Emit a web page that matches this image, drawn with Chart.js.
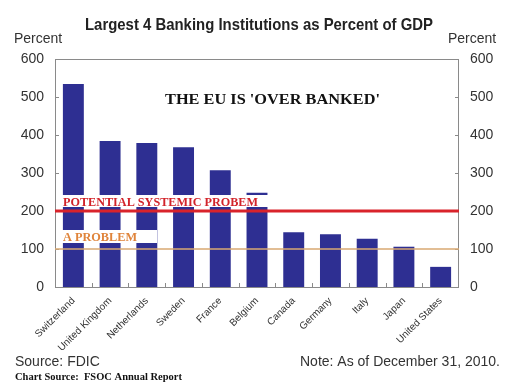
<!DOCTYPE html>
<html>
<head>
<meta charset="utf-8">
<script src="https://cdn.jsdelivr.net/npm/chart.js@4.4.1/dist/chart.umd.min.js"></script>
<style>
  html, body { margin: 0; padding: 0; background: #fff; }
  #wrap { width: 521px; height: 387px; position: relative; }
</style>
</head>
<body>
<div id="wrap"><canvas id="chart" width="521" height="387"></canvas></div>
<script>
// data
const countries = ['Switzerland', 'United Kingdom', 'Netherlands', 'Sweden', 'France', 'Belgium',
  'Canada', 'Germany', 'Italy', 'Japan', 'United States'];
const percentOfGdp = [534, 384, 379, 368, 307, 248, 144, 139, 127, 106, 53];
const yTicks = [0, 100, 200, 300, 400, 500, 600];
const systemicLevel = 200;
const problemLevel = 100;

const BAR = '#2e2f92';
const TEXT = '#333333';

// draw text stretched/squeezed to a given width
function fitText(ctx, text, x, y, width) {
  const sx = width / ctx.measureText(text).width;
  ctx.save();
  ctx.translate(x, y);
  ctx.scale(sx, 1);
  ctx.fillText(text, 0, 0);
  ctx.restore();
}

// lines, labels and frame drawn on top of the bars
const overlay = {
  id: 'overlay',
  afterDatasetsDraw(chart) {
    const { ctx, chartArea: a, scales } = chart;
    const y = scales.y;
    const x = scales.x;
    ctx.save();

    // frame + inward ticks
    ctx.strokeStyle = '#8a8a8a';
    ctx.lineWidth = 1;
    ctx.strokeRect(a.left + 0.5, a.top + 0.5, a.right - a.left - 1, a.bottom - a.top);
    yTicks.forEach(v => {
      const py = Math.round(y.getPixelForValue(v)) + 0.5;
      ctx.beginPath();
      ctx.moveTo(a.left, py); ctx.lineTo(a.left + 4, py);
      ctx.moveTo(a.right, py); ctx.lineTo(a.right - 4, py);
      ctx.stroke();
    });
    for (let i = 1; i < countries.length; i++) {
      const px = Math.round((x.getPixelForValue(i - 1) + x.getPixelForValue(i)) / 2) + 0.5;
      ctx.beginPath();
      ctx.moveTo(px, a.bottom); ctx.lineTo(px, a.bottom - 4);
      ctx.stroke();
    }

    const ySys = y.getPixelForValue(systemicLevel);
    const yProb = y.getPixelForValue(problemLevel);

    // label boxes
    ctx.fillStyle = '#ffffff';
    ctx.fillRect(a.left + 7, ySys - 16, 206, 12);
    ctx.fillRect(a.left + 7, yProb - 19, 95, 13);

    // threshold lines
    ctx.strokeStyle = '#d9232b';
    ctx.lineWidth = 3;
    ctx.beginPath(); ctx.moveTo(a.left, ySys); ctx.lineTo(a.right, ySys); ctx.stroke();
    ctx.strokeStyle = '#d8a872';
    ctx.lineWidth = 1.5;
    ctx.beginPath(); ctx.moveTo(a.left, yProb); ctx.lineTo(a.right, yProb); ctx.stroke();

    // annotations
    ctx.textBaseline = 'alphabetic';
    ctx.textAlign = 'left';
    ctx.font = 'bold 11.5px "Liberation Serif", "Times New Roman", serif';
    ctx.fillStyle = '#d2232a';
    fitText(ctx, 'POTENTIAL SYSTEMIC PROBEM', a.left + 8, ySys - 5, 195);
    ctx.fillStyle = '#e0843a';
    fitText(ctx, 'A PROBLEM', a.left + 8, yProb - 8, 74);

    ctx.fillStyle = '#111111';
    ctx.font = 'bold 14px "Liberation Serif", "Times New Roman", serif';
    fitText(ctx, "THE EU IS 'OVER BANKED'", 165, 104, 215);

    // title, squeezed to look like a narrow face
    ctx.textAlign = 'center';
    ctx.fillStyle = '#222222';
    ctx.font = 'bold 17px "Liberation Sans", Arial, sans-serif';
    fitText(ctx, 'Largest 4 Banking Institutions as Percent of GDP', 259, 30, 348);

    ctx.fillStyle = TEXT;
    ctx.font = '14px "Liberation Sans", Arial, sans-serif';
    ctx.fillText('Percent', 38, 43);
    ctx.fillText('Percent', 472, 43);

    // footer
    ctx.textAlign = 'left';
    ctx.font = '14px "Liberation Sans", Arial, sans-serif';
    ctx.fillText('Source: FDIC', 15, 366);
    ctx.textAlign = 'right';
    ctx.fillText('Note: As of December 31, 2010.', 500, 366);
    ctx.textAlign = 'left';
    ctx.fillStyle = '#111111';
    ctx.font = 'bold 10.5px "Liberation Serif", "Times New Roman", serif';
    ctx.fillText('Chart Source:  FSOC Annual Report', 15, 380);

    ctx.restore();
  }
};

const yAxis = (pos, width) => ({
  position: pos,
  min: 0,
  max: 600,
  grid: { display: false },
  border: { display: false },
  ticks: {
    stepSize: 100,
    padding: 3,
    color: TEXT,
    font: { family: '"Liberation Sans", Arial, sans-serif', size: 14 }
  },
  afterFit(scale) { scale.width = width; }
});

new Chart(document.getElementById('chart'), {
  type: 'bar',
  data: {
    labels: countries,
    datasets: [{
      data: percentOfGdp,
      backgroundColor: BAR,
      borderWidth: 0,
      barPercentage: 0.57,
      categoryPercentage: 1.0
    }]
  },
  options: {
    responsive: false,
    animation: false,
    devicePixelRatio: 1,
    layout: { padding: { top: 59, left: 0, right: 0, bottom: 0 } },
    plugins: {
      legend: { display: false },
      tooltip: { enabled: false }
    },
    scales: {
      x: {
        grid: { display: false },
        border: { display: false },
        ticks: {
          autoSkip: false,
          maxRotation: 45,
          minRotation: 45,
          padding: 0,
          color: TEXT,
          font: { family: '"Liberation Sans", Arial, sans-serif', size: 10 }
        },
        afterFit(scale) { scale.height = 100; }
      },
      y: yAxis('left', 55),
      y2: yAxis('right', 62)
    }
  },
  plugins: [overlay]
});
</script>
</body>
</html>
